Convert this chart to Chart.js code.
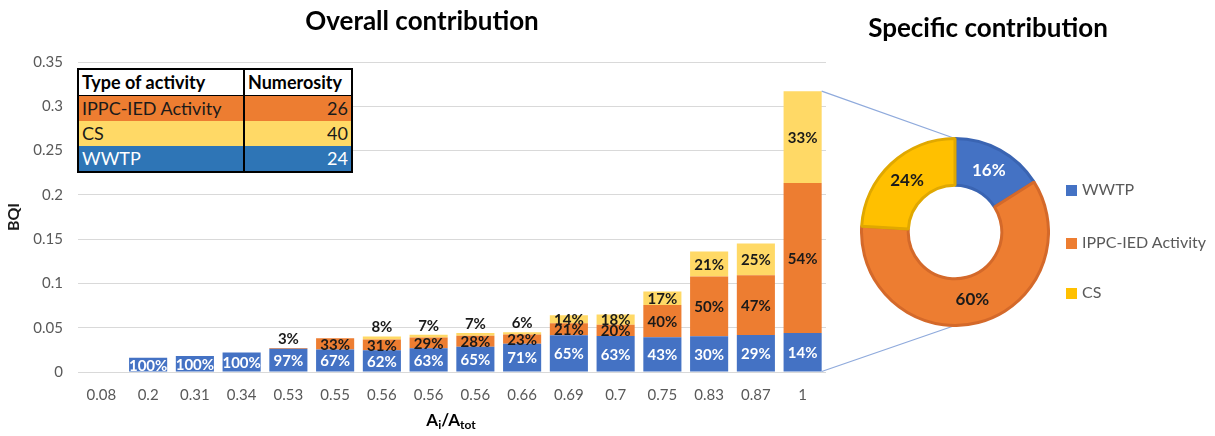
<!DOCTYPE html>
<html>
<head>
<meta charset="utf-8">
<script src="https://cdn.jsdelivr.net/npm/chart.js@4.4.1/dist/chart.umd.min.js"></script>
<style>
  html, body { margin: 0; padding: 0; background: #fff; }
  body {
    width: 1215px; height: 436px; position: relative; overflow: hidden;
    font-family: Lato, "Open Sans", sans-serif;
  }
  #bars { position: absolute; left: 0; top: 0; }
  #donut { position: absolute; left: 860px; top: 137px; }
  .heading {
    position: absolute; font-weight: bold; color: #000; white-space: nowrap;
    transform: translate(-50%, -50%);
  }
  .heading sub { font-size: 12px; vertical-align: -3px; }
  #activity {
    position: absolute; left: 77px; top: 68px;
    border-collapse: collapse; font-size: 18px; border: 2px solid #000;
  }
  #activity td { height: 25px; padding: 0 3px; line-height: 25px; white-space: nowrap; }
  #activity td.name { width: 158px; border-right: 2px solid #000; }
  #activity td.num { width: 100px; text-align: right; }
  #activity tr.head td { font-weight: bold; color: #000; border-bottom: 1px solid #000; background: #fff; }
  .legend-item {
    position: absolute; left: 1066px; font-size: 16px; color: #595959;
    height: 20px; line-height: 20px; white-space: nowrap;
  }
  .legend-item span {
    display: inline-block; width: 11px; height: 11px; margin-right: 5px; vertical-align: -1px;
  }
</style>
</head>
<body>
<canvas id="bars" width="1215" height="436"></canvas>
<canvas id="donut" width="190" height="190"></canvas>
<div class="heading" style="left:422px; top:20px; font-size:26px;">Overall contribution</div>
<div class="heading" style="left:988px; top:27px; font-size:26px;">Specific contribution</div>
<div class="heading" style="left:451px; top:420px; font-size:17px;">A<sub>i</sub>/A<sub>tot</sub></div>
<table id="activity"></table>
<div id="legend"></div>
<script>
  // A_i/A_tot classes and total BQI of each bar
  var categories = ["0.08", "0.2", "0.31", "0.34", "0.53", "0.55", "0.56", "0.56",
    "0.56", "0.66", "0.69", "0.7", "0.75", "0.83", "0.87", "1"];
  var bqiTotal = [0, 0.016, 0.018, 0.022, 0.027, 0.038, 0.040, 0.042,
    0.044, 0.045, 0.064, 0.065, 0.091, 0.136, 0.145, 0.317];

  // share of each activity type in every bar (%)
  var wwtpPct = [0, 100, 100, 100, 97, 67, 62, 63, 65, 71, 65, 63, 43, 30, 29, 14];
  var ippcPct = [0, 0, 0, 0, 3, 33, 31, 29, 28, 23, 21, 20, 40, 50, 47, 54];
  var csPct = [0, 0, 0, 0, 0, 0, 8, 7, 7, 6, 14, 18, 17, 21, 25, 33];

  var yTickLabels = ["0", "0.05", "0.1", "0.15", "0.2", "0.25", "0.3", "0.35"];

  // specific contribution (doughnut)
  var donutLabels = ["WWTP", "IPPC-IED Activity", "CS"];
  var donutPct = [16, 60, 24];

  // numerosity table
  var activityTypes = ["IPPC-IED Activity", "CS", "WWTP"];
  var activityCount = [26, 40, 24];

  var BLUE = "#4472c4";
  var ORANGE = "#ed7d31";
  var LIGHT_YELLOW = "#ffd966";
  var GOLD = "#ffc000";
  var GREY_TEXT = "#595959";
  var FONT = "Lato, 'Open Sans', sans-serif";

  Chart.defaults.font.family = FONT;
  Chart.defaults.color = GREY_TEXT;

  // rounded shares don't always add up to 100, so scale by their sum
  function segment(pct) {
    return bqiTotal.map(function (t, i) {
      var sum = wwtpPct[i] + ippcPct[i] + csPct[i];
      return sum ? t * pct[i] / sum : 0;
    });
  }

  // table next to the y axis
  (function buildTable() {
    var rowStyles = [
      { bg: ORANGE, color: "#1a1a1a" },
      { bg: LIGHT_YELLOW, color: "#1a1a1a" },
      { bg: "#2e75b6", color: "#fff" },
    ];
    var table = document.getElementById("activity");
    var html = '<tr class="head"><td class="name">Type of activity</td><td class="num" style="text-align:left">Numerosity</td></tr>';
    activityTypes.forEach(function (name, i) {
      var s = rowStyles[i];
      html += '<tr style="background:' + s.bg + ";color:" + s.color + '">' +
        '<td class="name">' + name + '</td><td class="num">' + activityCount[i] + "</td></tr>";
    });
    table.innerHTML = html;
  })();

  // legend of the doughnut
  (function buildLegend() {
    var colors = [BLUE, ORANGE, GOLD];
    var tops = [179, 232, 282];
    var box = document.getElementById("legend");
    donutLabels.forEach(function (name, i) {
      var d = document.createElement("div");
      d.className = "legend-item";
      d.style.top = tops[i] + "px";
      d.innerHTML = '<span style="background:' + colors[i] + '"></span>' + name;
      box.appendChild(d);
    });
  })();

  var donutValueLabels = {
    id: "donutValueLabels",
    afterDatasetsDraw: function (chart) {
      var ctx = chart.ctx;
      var colors = ["#fff", "#1a1a1a", "#1a1a1a"];
      ctx.save();
      ctx.font = "bold 17px " + FONT;
      ctx.textAlign = "center";
      ctx.textBaseline = "middle";
      chart.getDatasetMeta(0).data.forEach(function (arc, i) {
        var p = arc.tooltipPosition();
        ctx.fillStyle = colors[i];
        ctx.fillText(donutPct[i] + "%", p.x, p.y);
      });
      ctx.restore();
    },
  };

  var donutCanvas = document.getElementById("donut");
  var donutChart = new Chart(donutCanvas, {
    type: "doughnut",
    data: {
      labels: donutLabels,
      datasets: [
        {
          data: donutPct,
          backgroundColor: [BLUE, ORANGE, GOLD],
          borderColor: ["#3a64b2", "#d4692a", "#e0a800"],
          borderWidth: 3,
        },
      ],
    },
    options: {
      responsive: false,
      animation: false,
      cutout: "50%",
      layout: { padding: 0 },
      plugins: {
        legend: { display: false },
        tooltip: { enabled: false },
      },
    },
    plugins: [donutValueLabels],
  });

  function stackTop(chart, index) {
    var top = Infinity;
    chart.data.datasets.forEach(function (ds, di) {
      var bar = chart.getDatasetMeta(di).data[index];
      if (ds.data[index] > 0 && bar.y < top) {
        top = bar.y;
      }
    });
    return top;
  }

  var barValueLabels = {
    id: "barValueLabels",
    afterDatasetsDraw: function (chart) {
      var ctx = chart.ctx;
      ctx.save();
      ctx.font = "bold 15px " + FONT;
      ctx.textAlign = "center";
      ctx.textBaseline = "middle";
      chart.data.datasets.forEach(function (ds, di) {
        chart.getDatasetMeta(di).data.forEach(function (bar, i) {
          var pct = ds.pct[i];
          if (!pct) {
            return;
          }
          var h = bar.base - bar.y;
          if (h < 5) {
            // thin slice: put its label above the stack
            ctx.fillStyle = "#1a1a1a";
            ctx.fillText(pct + "%", bar.x, stackTop(chart, i) - 9);
          } else {
            ctx.fillStyle = ds.labelColor;
            ctx.fillText(pct + "%", bar.x, (bar.y + bar.base) / 2 + 1);
          }
        });
      });
      ctx.restore();
    },
  };

  // lines linking the last bar to the doughnut
  var connector = {
    id: "connector",
    afterDraw: function (chart) {
      var last = categories.length - 1;
      var bottomBar = chart.getDatasetMeta(0).data[last];
      var topBar = chart.getDatasetMeta(2).data[last];
      var arc = donutChart.getDatasetMeta(0).data[0];
      var cx = donutCanvas.offsetLeft + arc.x;
      var cy = donutCanvas.offsetTop + arc.y;
      var r = arc.outerRadius;
      var right = bottomBar.x + bottomBar.width / 2;
      var ctx = chart.ctx;
      ctx.save();
      ctx.strokeStyle = "#8faadc";
      ctx.lineWidth = 1.3;
      ctx.beginPath();
      ctx.moveTo(right, topBar.y);
      ctx.lineTo(cx, cy - r);
      ctx.moveTo(right, bottomBar.base);
      ctx.lineTo(cx, cy + r);
      ctx.stroke();
      ctx.restore();
    },
  };

  new Chart(document.getElementById("bars"), {
    type: "bar",
    data: {
      labels: categories,
      datasets: [
        { label: "WWTP", data: segment(wwtpPct), pct: wwtpPct, backgroundColor: BLUE, labelColor: "#fff" },
        { label: "IPPC-IED Activity", data: segment(ippcPct), pct: ippcPct, backgroundColor: ORANGE, labelColor: "#1a1a1a" },
        { label: "CS", data: segment(csPct), pct: csPct, backgroundColor: LIGHT_YELLOW, labelColor: "#1a1a1a" },
      ],
    },
    options: {
      responsive: false,
      animation: false,
      layout: { padding: { left: 0, right: 389, top: 62, bottom: 0 } },
      datasets: {
        bar: { categoryPercentage: 1, barPercentage: 0.815 },
      },
      plugins: {
        legend: { display: false },
        tooltip: { enabled: false },
      },
      scales: {
        x: {
          stacked: true,
          grid: { display: false, drawTicks: false },
          border: { display: false },
          ticks: { padding: 14, font: { size: 15 }, color: GREY_TEXT, maxRotation: 0, autoSkip: false },
          afterFit: function (scale) {
            scale.height = 64;
          },
        },
        y: {
          stacked: true,
          min: 0,
          max: 0.35,
          grid: { color: "#d9d9d9", lineWidth: 1, drawTicks: false },
          border: { display: false },
          ticks: {
            stepSize: 0.05,
            padding: 15,
            font: { size: 15 },
            color: GREY_TEXT,
            callback: function (value, index) {
              return yTickLabels[index];
            },
          },
          title: {
            display: true,
            text: "BQI",
            color: "#1a1a1a",
            font: { size: 16, weight: "bold" },
            padding: { top: 4, bottom: 0 },
          },
          afterFit: function (scale) {
            scale.width = 78;
          },
        },
      },
    },
    plugins: [barValueLabels, connector],
  });
</script>
</body>
</html>
